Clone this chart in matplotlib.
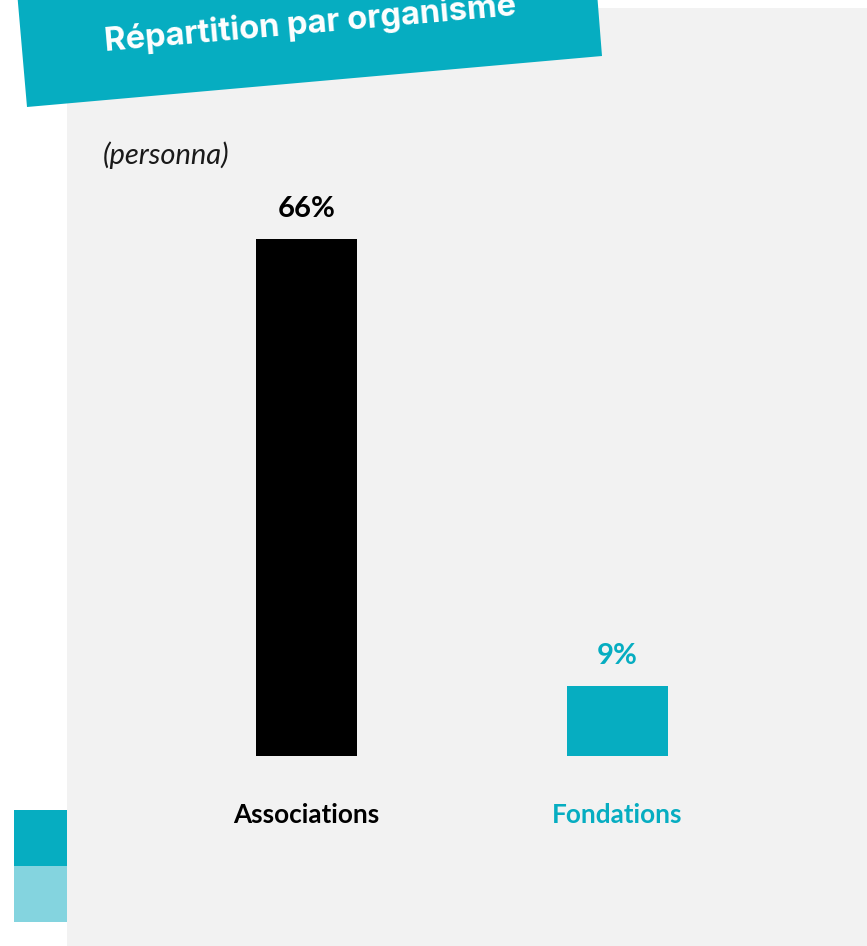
import matplotlib.pyplot as plt
from matplotlib.patches import Polygon, Rectangle

# data
categories = ["Associations", "Fondations"]
shares = [66, 9]
value_labels = ["66%", "9%"]
title = "Répartition par organisme"
subtitle = "(personna)"

TEAL = "#06adc1"
LIGHT_TEAL = "#84d4df"
PANEL = "#f2f2f2"
bar_colors = ["#000000", TEAL]
label_colors = ["#000000", TEAL]

W, H = 867, 946
fig = plt.figure(figsize=(W / 100, H / 100), dpi=100)

# background layer in pixel coordinates
bg = fig.add_axes([0, 0, 1, 1])
bg.set_xlim(0, W)
bg.set_ylim(H, 0)
bg.axis("off")
bg.add_patch(Rectangle((67, 8), W - 67, H - 8, color=PANEL, lw=0))
bg.add_patch(Polygon([(16, -20), (596, -20), (602, 56), (27, 107)],
                     closed=True, color=TEAL, lw=0))
bg.text(310, 24, title, rotation=5, rotation_mode="anchor",
        ha="center", va="center", color="white", fontsize=23.5,
        fontweight="bold", family="Inter")
bg.text(103, 155, subtitle, ha="left", va="center", fontsize=21,
        style="italic", family="Lato", color="#1a1a1a")
bg.add_patch(Rectangle((14, 810), 53, 56, color=TEAL, lw=0))
bg.add_patch(Rectangle((14, 866), 53, 56, color=LIGHT_TEAL, lw=0))

# bar chart
px_unit = 311
x0 = 306.5
ax = fig.add_axes([67 / W, (H - 756) / H, 800 / W, 517 / H])
ax.set_xlim(-(x0 - 67) / px_unit, (W - x0) / px_unit)
ax.set_ylim(0, max(shares))
ax.patch.set_alpha(0)
for s in ax.spines.values():
    s.set_visible(False)
ax.set_yticks([])

xs = range(len(categories))
ax.bar(xs, shares, width=101 / px_unit, color=bar_colors)

for i, (v, lab) in enumerate(zip(shares, value_labels)):
    ax.annotate(lab, xy=(i, v), xytext=(0, 22), textcoords="offset pixels",
                ha="center", va="baseline", fontsize=21, fontweight="bold",
                family="Lato", color=label_colors[i], annotation_clip=False)

ax.set_xticks(list(xs), categories)
ax.tick_params(axis="x", length=0, pad=34)
for t, c in zip(ax.get_xticklabels(), label_colors):
    t.set_color(c)
    t.set_fontsize(18.8)
    t.set_fontweight("bold")
    t.set_family("Lato")

fig.savefig("out.png", dpi=100)
